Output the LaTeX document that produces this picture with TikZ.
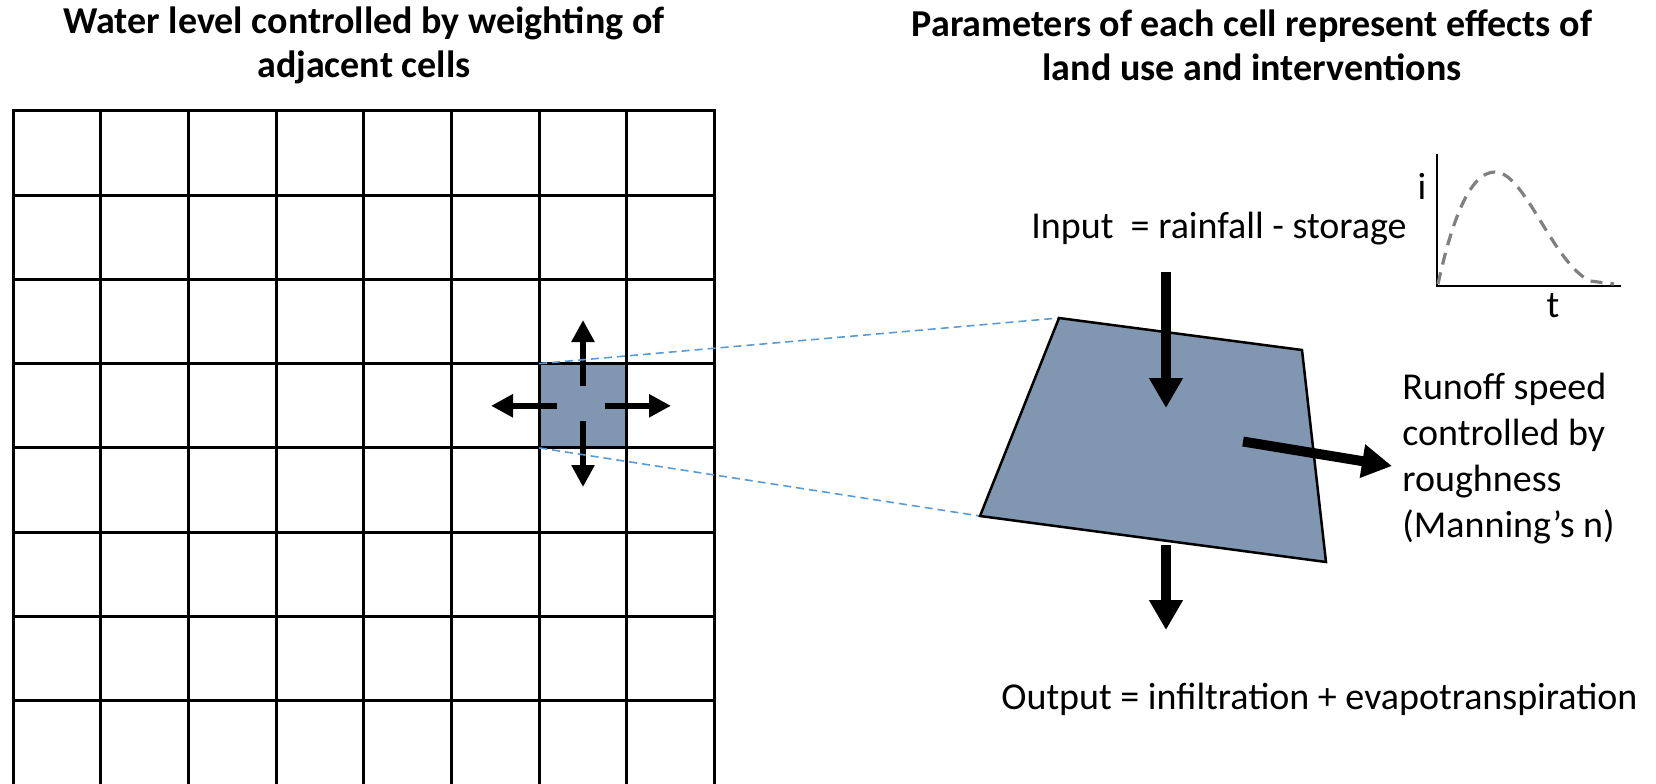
\documentclass[tikz,border=0pt]{standalone}
\usepackage{fontspec}
\setmainfont{Carlito}
\usetikzlibrary{arrows.meta}
\definecolor{cellfill}{RGB}{129,150,176}
\definecolor{linkblue}{RGB}{91,155,213}
\definecolor{curvegray}{RGB}{128,128,128}
\begin{document}
\begin{tikzpicture}[x=0.5pt,y=-0.5pt,
  txt/.style={font=\fontsize{19}{23}\selectfont, inner sep=0pt},
  ttl/.style={font=\fontsize{19}{22}\selectfont\bfseries, align=center, inner sep=0pt},
  gridline/.style={line width=1.5pt, line cap=rect},
  smallarrow/.style={line width=3pt, -{Triangle[width=11pt,length=11pt]}},
  bigarrow/.style={line width=5pt, -{Triangle[width=16pt,length=15pt]}},
  link/.style={linkblue, line width=0.8pt, dash pattern=on 4pt off 2.5pt},
]
\useasboundingbox (0,0) rectangle (1656,783);
% grid
\begin{scope}
\clip (0,0) rectangle (1656,783);
\fill[cellfill] (539.2,363.6) rectangle (626.9,447.9);
\foreach \i in {0,...,8} \draw[gridline] (13+87.7*\i,110.7) -- (13+87.7*\i,810);
\foreach \j in {0,...,7} \draw[gridline] (13,110.7+84.3*\j) -- (714.6,110.7+84.3*\j);
\end{scope}
% cell corners and centre
\coordinate (cTL) at (539.2,363.6);
\coordinate (cBL) at (539.2,447.9);
% small arrows
\coordinate (uS) at (583,386); \coordinate (uE) at (583,320);
\coordinate (dS) at (583,421); \coordinate (dE) at (583,487);
\coordinate (lS) at (557,405.8); \coordinate (lE) at (491,405.8);
\coordinate (rS) at (605,405.8); \coordinate (rE) at (671,405.8);
\draw[smallarrow] (uS) -- (uE);
\draw[smallarrow] (dS) -- (dE);
\draw[smallarrow] (lS) -- (lE);
\draw[smallarrow] (rS) -- (rE);
% quad
\coordinate (qTL) at (1059,318);
\coordinate (qTR) at (1302,350);
\coordinate (qBR) at (1326,562);
\coordinate (qBL) at (980,516);
\draw[link] (cTL) -- (qTL);
\draw[link] (cBL) -- (qBL);
\filldraw[fill=cellfill, line width=1.25pt, line join=miter] (qTL) -- (qTR) -- (qBR) -- (qBL) -- cycle;
% big arrows
\coordinate (inS) at (1166,272); \coordinate (inE) at (1166,408);
\coordinate (outS) at (1166,545); \coordinate (outE) at (1166,630);
\coordinate (roS) at (1243,441.5); \coordinate (roE) at (1392,466);
\draw[bigarrow] (inS) -- (inE);
\draw[bigarrow] (outS) -- (outE);
\draw[bigarrow] (roS) -- (roE);
% texts
\node[ttl] (t1) at (364,45) {Water level controlled by weighting of\\adjacent cells};
\node[ttl] (t2) at (1252,45) {Parameters of each cell represent effects of\\land use and interventions};
\node[txt, anchor=west] (input) at (1031,229) {Input\ \ = rainfall - storage};
\node[txt, anchor=west, align=left] (runoff) at (1402,459) {Runoff speed\\controlled by\\roughness\\(Manning’s n)};
\node[txt, anchor=west] (output) at (1001,699) {Output = infiltration + evapotranspiration};
% hydrograph
\coordinate (gTop) at (1437,154);
\coordinate (gO) at (1437,285.7);
\coordinate (gR) at (1621,285.7);
\draw[line width=1pt] (gTop) -- (gO) -- (gR);
\draw[curvegray, line width=1.6pt, dash pattern=on 6pt off 4pt]
  (1438,284) .. controls (1452,220) and (1470,172) .. (1495,172)
  .. controls (1525,172) and (1552,262) .. (1590,281) -- (1614,284);
\node[txt] (ilab) at (1422,186) {i};
\node[txt] (tlab) at (1553,306) {t};
\end{tikzpicture}
\end{document}
